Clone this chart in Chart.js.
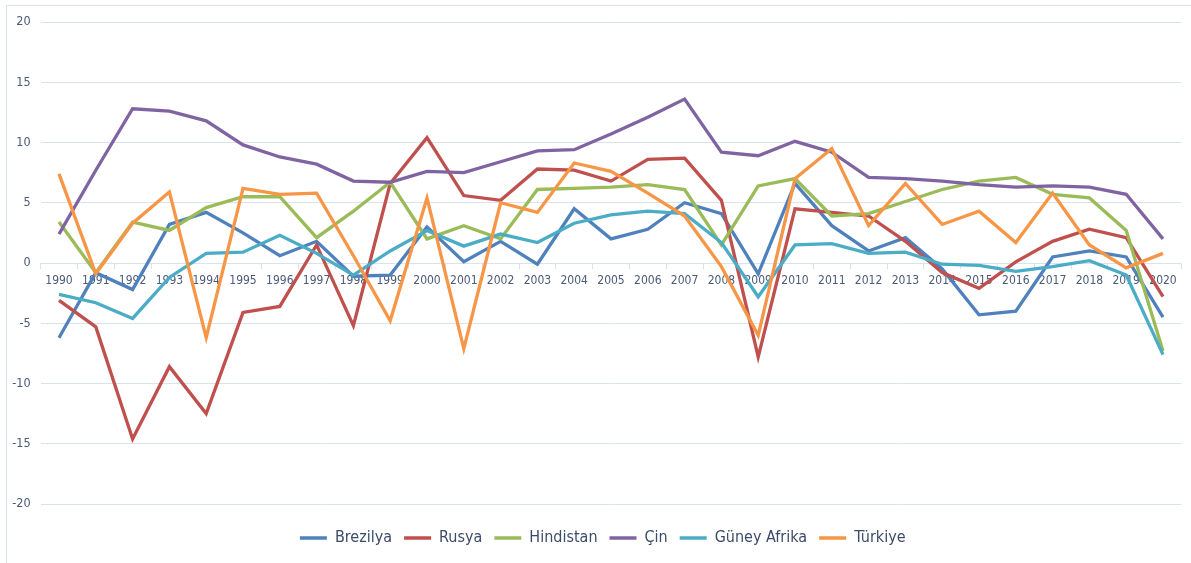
<!DOCTYPE html>
<html>
<head>
<meta charset="utf-8">
<script src="https://cdn.jsdelivr.net/npm/chart.js@4.4.1/dist/chart.umd.min.js"></script>
<style>
  html, body { margin: 0; padding: 0; background: #ffffff; overflow: hidden; }
  #frame { position: absolute; left: 6px; top: 5px; width: 1300px; height: 700px; border: 1px solid #D9E2EF; }
  #c { position: absolute; left: 0; top: 0; }
</style>
</head>
<body>
<div id="frame"></div>
<canvas id="c" width="1191" height="563"></canvas>
<script>
const years = ['1990','1991','1992','1993','1994','1995','1996','1997','1998','1999','2000','2001','2002','2003','2004','2005','2006','2007','2008','2009','2010','2011','2012','2013','2014','2015','2016','2017','2018','2019','2020'];

const brezilya = [-6.2,-0.8,-2.2,3.2,4.2,2.5,0.6,1.8,-1.1,-1.0,3.0,0.1,1.8,-0.1,4.5,2.0,2.8,5.0,4.1,-0.9,6.6,3.1,1.0,2.1,-0.5,-4.3,-4.0,0.5,1.0,0.5,-4.5];
const rusya = [-3.1,-5.3,-14.6,-8.6,-12.5,-4.1,-3.6,1.5,-5.2,6.6,10.4,5.6,5.2,7.8,7.7,6.8,8.6,8.7,5.2,-7.8,4.5,4.2,3.9,1.8,-0.8,-2.1,0.1,1.8,2.8,2.1,-2.8];
const hindistan = [3.4,-0.8,3.4,2.7,4.6,5.5,5.5,2.1,4.3,6.7,2.0,3.1,2.0,6.1,6.2,6.3,6.5,6.1,1.5,6.4,7.0,3.9,4.1,5.1,6.1,6.8,7.1,5.7,5.4,2.7,-7.3];
const cin = [2.4,7.7,12.8,12.6,11.8,9.8,8.8,8.2,6.8,6.7,7.6,7.5,8.4,9.3,9.4,10.7,12.1,13.6,9.2,8.9,10.1,9.2,7.1,7.0,6.8,6.5,6.3,6.4,6.3,5.7,2.0];
const guneyAfrika = [-2.6,-3.3,-4.6,-1.2,0.8,0.9,2.3,0.8,-1.0,1.0,2.7,1.4,2.4,1.7,3.3,4.0,4.3,4.1,1.7,-2.8,1.5,1.6,0.8,0.9,-0.1,-0.2,-0.7,-0.3,0.2,-1.0,-7.6];
const turkiye = [7.4,-0.9,3.3,5.9,-6.2,6.2,5.7,5.8,0.6,-4.8,5.4,-7.1,5.0,4.2,8.3,7.6,5.8,3.9,-0.3,-6.0,7.0,9.5,3.1,6.6,3.2,4.3,1.7,5.8,1.5,-0.4,0.8];

const seriesNames = ['Brezilya','Rusya','Hindistan','Çin','Güney Afrika','Türkiye'];
const seriesData = [brezilya, rusya, hindistan, cin, guneyAfrika, turkiye];
const seriesColors = ['#4F81BD','#C0504D','#9BBB59','#8064A2','#4BACC6','#F79646'];

const FONT = "'Liberation Sans Narrow', 'DejaVu Sans Condensed', 'Arial Narrow', sans-serif";
const GRID = '#D9E2EF';

const datasets = seriesNames.map((name, i) => ({
  label: name,
  data: seriesData[i],
  borderColor: seriesColors[i],
  backgroundColor: seriesColors[i],
  borderWidth: 3.3,
  pointRadius: 0,
  pointHoverRadius: 0,
  pointStyle: 'line',
  tension: 0,
  fill: false,
  order: seriesNames.length - 1 - i
}));

const legendShift = {
  id: 'legendShift',
  afterLayout(chart) {
    if (chart.legend) { chart.legend.left += 12; chart.legend.right += 12; }
  }
};

new Chart(document.getElementById('c'), {
  type: 'line',
  data: { labels: years, datasets },
  plugins: [legendShift],
  options: {
    responsive: false,
    devicePixelRatio: 1,
    animation: false,
    layout: { padding: { top: 22, right: 9.6, left: 0, bottom: 7 } },
    plugins: {
      tooltip: { enabled: false },
      title: {
        display: true,
        position: 'bottom',
        weight: 500,
        text: ' ',
        color: 'rgba(0,0,0,0)',
        font: { size: 1, lineHeight: 1.2 },
        padding: { top: 0, bottom: 12.8 }
      },
      legend: {
        position: 'bottom',
        labels: {
          usePointStyle: true,
          pointStyleWidth: 27,
          padding: 12,
          color: '#3B4B68',
          font: { family: FONT, size: 16 },
          sort: (a, b) => a.datasetIndex - b.datasetIndex
        }
      }
    },
    scales: {
      x: {
        position: { y: 0 },
        offset: true,
        grid: { offset: true, drawOnChartArea: false, drawTicks: true, tickLength: 5, color: GRID },
        border: { display: true, color: GRID, width: 1 },
        ticks: { color: '#4A5A78', font: { family: FONT, size: 12 }, padding: 6, maxRotation: 0, autoSkip: false }
      },
      y: {
        min: -20,
        max: 20,
        ticks: { stepSize: 5, color: '#4A5A78', font: { family: FONT, size: 12.5 }, padding: 10 },
        grid: { color: GRID, drawTicks: false, lineWidth: 1 },
        border: { display: false },
        afterFit: s => { s.width = 40.6; }
      }
    }
  }
});
</script>
</body>
</html>
